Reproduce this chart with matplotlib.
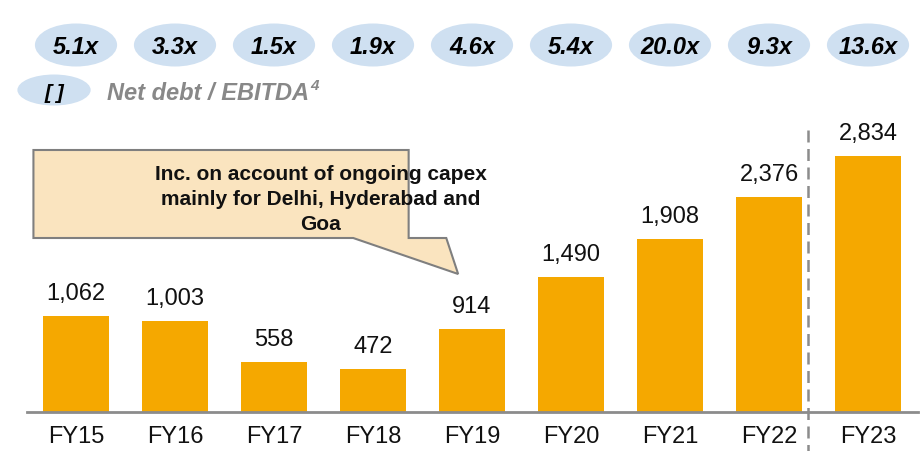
import matplotlib
matplotlib.use("Agg")
import matplotlib.pyplot as plt
from matplotlib.patches import Ellipse, Polygon

plt.rcParams['font.family'] = ['Liberation Sans', 'DejaVu Sans']

# Net debt by financial year
years = ["FY15", "FY16", "FY17", "FY18", "FY19", "FY20", "FY21", "FY22", "FY23"]
net_debt = [1062, 1003, 558, 472, 914, 1490, 1908, 2376, 2834]
# Net debt / EBITDA multiple for each year
multiples = [5.1, 3.3, 1.5, 1.9, 4.6, 5.4, 20.0, 9.3, 13.6]
callout_text = "Inc. on account of ongoing capex\nmainly for Delhi, Hyderabad and\nGoa"

W, H = 922, 451
BAR = "#F5A800"
PILL = "#CFE0F1"
GREY = "#8C8C8C"

fig = plt.figure(figsize=(W / 100, H / 100), dpi=100)

# main bar axes: bottom spine at y=412px, x range chosen so bars sit 99px apart
left, right, base, top = 27, 918, 412, 100
ax = fig.add_axes([left / W, 1 - base / H, (right - left) / W, (base - top) / H])
xlim = (-0.495, 8.505)
ax.set_xlim(*xlim)
ax.set_ylim(0, (base - top) / 0.0905)

x = range(len(years))
ax.bar(x, net_debt, width=0.67, color=BAR, zorder=2)
for i, v in enumerate(net_debt):
    ax.annotate(f"{v:,}", (i, v), xytext=(0, 11.5), textcoords="offset points",
                ha="center", va="baseline", fontsize=17, color="#111111")

for s in ["left", "right", "top"]:
    ax.spines[s].set_visible(False)
ax.spines["bottom"].set_color(GREY)
ax.spines["bottom"].set_linewidth(2)
ax.set_yticks([])
ax.set_xticks(list(x))
ax.set_xticklabels(years, fontsize=17, color="#111111")
ax.tick_params(axis="x", length=0, pad=10)

# overlay: x in category units, y in pixels from the top
ov = fig.add_axes([left / W, 0, (right - left) / W, 1], zorder=5)
ov.set_xlim(*xlim)
ov.set_ylim(H, 0)
ov.axis("off")

# multiple pills above each bar
for i, m in enumerate(multiples):
    ov.add_patch(Ellipse((i, 45), 0.83, 43, color=PILL, lw=0, clip_on=False))
    ov.text(i, 54, f"{m:.1f}x", ha="center", va="baseline", fontsize=17,
            fontweight="bold", fontstyle="italic", color="black")

# legend pill
ov.add_patch(Ellipse((-0.222, 90), 0.74, 31, color=PILL, lw=0, clip_on=False))
ov.text(-0.222, 99, "[ ]", ha="center", va="baseline", fontsize=15,
        fontweight="bold", fontstyle="italic", color="black")
lbl = ov.text(0.313, 100, "Net debt / EBITDA", ha="left", va="baseline",
              fontsize=17, fontweight="bold", fontstyle="italic", color="#888888")
ov.annotate("4", xy=(1, 1), xycoords=lbl, xytext=(1, 2), textcoords="offset points",
            ha="left", va="top", fontsize=11, fontweight="bold",
            fontstyle="italic", color="#888888")

# dashed separator between FY22 and FY23
ov.plot([7.39, 7.39], [130, H], color=GREY, lw=1.8, ls=(0, (4.8, 2.6)), clip_on=False)

# callout box with pointer towards FY19
box = [(-0.43, 150), (3.36, 150), (3.36, 238), (3.74, 238), (3.86, 274),
       (2.80, 238), (-0.43, 238)]
ov.add_patch(Polygon(box, closed=True, facecolor="#FAE4BF", edgecolor="#7F7F7F",
                     lw=1.5, clip_on=False))
ov.text(2.47, 230, callout_text, ha="center", va="baseline", fontsize=15,
        fontweight="bold", color="#111111", linespacing=1.4, multialignment="center")

fig.savefig("out.png", dpi=100)
